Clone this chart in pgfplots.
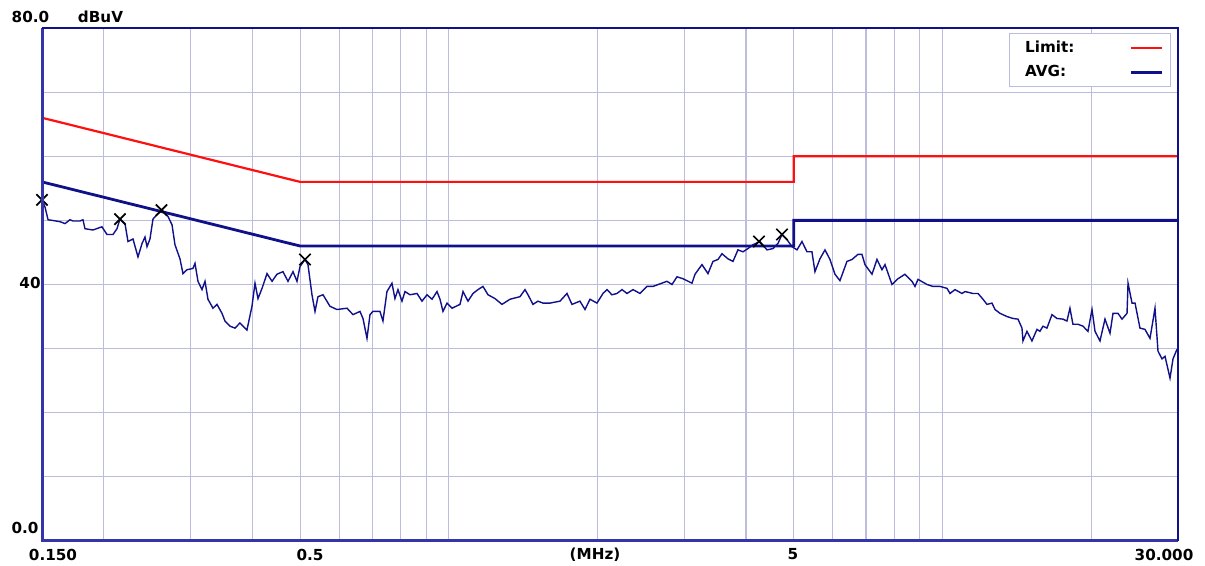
\documentclass[border=0pt]{standalone}
\usepackage{pgfplots}
\pgfplotsset{compat=1.18}
\usepackage{fontspec}
\setmainfont{DejaVu Sans}
\definecolor{navy}{HTML}{10108A}
\definecolor{frameblue}{HTML}{3434AC}
\definecolor{gridlav}{HTML}{BCBCDE}
\definecolor{limred}{HTML}{FF1010}

\begin{document}
\begin{tikzpicture}[lab/.style={font=\bfseries\fontsize{7.6}{9}\selectfont, inner sep=0pt}]
% page = 1205 x 566 px at 0.5pt per px; plot box at px (42,28)-(1178,541)
\path[use as bounding box] (-21pt,-12.5pt) rectangle (581.5pt,270.5pt);
\begin{axis}[
  name=ax, at={(0,0)}, anchor=south west,
  scale only axis, width=568pt, height=256.5pt,
  xmode=log, xmin=0.15, xmax=30, ymin=0, ymax=80,
  xtick={0.2,0.3,0.4,0.5,0.6,0.7,0.8,0.9,1,2,3,4,5,6,7,8,9,10,20},
  ytick={10,20,30,40,50,60,70},
  xticklabels={}, yticklabels={},
  major tick length=0pt,
  grid=major, grid style={gridlav, line width=0.55pt},
  axis line style={draw=none},
  legend plot pos=right,
  legend image code/.code={\draw[#1] (0pt,0pt) -- (15.5pt,0pt);},
  legend style={at={(rel axis cs:0.851,0.990)}, anchor=north west,
    draw=gridlav, line width=0.5pt, fill=white,
    font=\bfseries\fontsize{7.6}{9}\selectfont,
    inner xsep=3.5pt, inner ysep=3.5pt, row sep=5pt, column sep=27.5pt,
    cells={anchor=west}, nodes={inner sep=0pt}},
]
\addplot[limred, line width=1.1pt] coordinates {
  (0.15,66) (0.5,56) (5,56) (5,60) (30,60)};
\addlegendentry{\hspace*{4.5pt}Limit:}
\addplot[navy, line width=1.4pt] coordinates {
  (0.15,56) (0.5,46) (5,46) (5,50) (30,50)};
\addlegendentry{\hspace*{4.5pt}AVG:}

% measured trace
\addplot[navy, line width=0.7pt, forget plot] coordinates {
(0.1500,53.2) (0.1521,52.1) (0.1543,50.1) (0.1631,49.8) (0.1670,49.5)
(0.1709,50.1) (0.1733,49.9) (0.1791,49.9) (0.1816,50.1) (0.1833,48.7)
(0.1903,48.5) (0.1984,49.0) (0.2031,47.8) (0.2089,47.8) (0.2128,48.7)
(0.2158,50.2) (0.2209,49.5) (0.2240,46.7) (0.2293,47.1) (0.2347,44.3)
(0.2392,46.4) (0.2425,47.4) (0.2448,45.9) (0.2482,47.1) (0.2517,50.2)
(0.2565,50.9) (0.2625,51.6) (0.2700,50.6) (0.2751,49.3) (0.2789,46.2)
(0.2855,44.0) (0.2895,41.7) (0.2950,42.3) (0.3033,42.5) (0.3062,43.3)
(0.3105,40.5) (0.3164,39.2) (0.3208,40.5) (0.3253,37.7) (0.3330,36.3)
(0.3393,36.9) (0.3473,35.5) (0.3522,34.3) (0.3605,33.5) (0.3690,33.2)
(0.3777,34.0) (0.3902,32.9) (0.3995,36.6) (0.4051,40.2) (0.4108,37.8)
(0.4186,39.4) (0.4284,41.7) (0.4386,40.5) (0.4488,41.6) (0.4615,42.0)
(0.4725,40.5) (0.4836,42.0) (0.4927,40.5) (0.4997,42.8) (0.5114,43.9)
(0.5186,43.1) (0.5284,38.4) (0.5359,35.8) (0.5434,38.1) (0.5563,38.4)
(0.5747,36.6) (0.5937,36.1) (0.6222,36.3) (0.6398,35.3) (0.6610,35.8)
(0.6703,34.7) (0.6830,31.6) (0.6926,35.3) (0.7023,35.8) (0.7256,35.8)
(0.7358,34.3) (0.7497,38.9) (0.7674,40.2) (0.7782,37.8) (0.7892,39.2)
(0.8040,37.4) (0.8154,38.9) (0.8346,38.4) (0.8624,38.6) (0.8827,37.4)
(0.9035,38.4) (0.9249,37.7) (0.9467,38.9) (0.9601,37.7) (0.9734,35.8)
(0.9918,37.1) (1.0153,36.3) (1.0539,36.9) (1.0688,38.9) (1.0939,37.4)
(1.1197,38.6) (1.1460,39.2) (1.1730,39.7) (1.2009,38.4) (1.2408,37.8)
(1.2818,36.9) (1.3305,37.7) (1.3940,38.1) (1.4271,39.2) (1.4470,38.4)
(1.4811,36.9) (1.5161,37.4) (1.5520,37.1) (1.6035,37.1) (1.6799,37.4)
(1.7358,38.6) (1.7766,36.9) (1.8442,37.4) (1.8880,36.1) (1.9323,37.7)
(1.9965,37.1) (2.0529,38.6) (2.0916,39.2) (2.1408,38.4) (2.1916,38.6)
(2.2434,39.2) (2.2963,38.6) (2.3616,39.2) (2.4401,38.6) (2.5208,39.7)
(2.5923,39.7) (2.7672,40.5) (2.8327,40.0) (2.8995,41.2) (2.9819,40.9)
(3.1100,40.2) (3.1538,41.6) (3.2580,43.1) (3.3504,41.7) (3.4295,43.6)
(3.5103,43.9) (3.5765,44.8) (3.6780,44.0) (3.7649,43.6) (3.8535,45.4)
(3.9449,45.1) (4.0373,45.6) (4.1322,46.2) (4.2695,46.7) (4.4114,45.4)
(4.5360,45.6) (4.6437,46.4) (4.7312,47.8) (4.8426,47.0) (4.9565,45.9)
(5.0742,45.4) (5.1936,46.7) (5.3159,45.1) (5.4410,45.1) (5.5178,42.0)
(5.6478,44.0) (5.7822,45.4) (5.9183,43.9) (6.0575,41.6) (6.2000,40.6)
(6.4062,43.6) (6.5583,43.9) (6.7437,44.7) (6.8706,44.7) (6.9678,43.1)
(7.2000,41.6) (7.3697,43.9) (7.5432,42.3) (7.6500,43.1) (7.9044,40.0)
(8.1281,40.9) (8.3964,41.6) (8.6756,40.5) (8.7983,39.7) (8.9226,40.8)
(9.3042,40.0) (9.5673,39.7) (9.8855,39.7) (10.214,39.4) (10.358,38.6)
(10.602,39.2) (10.955,38.6) (11.109,38.9) (11.530,38.6) (11.804,38.6)
(12.081,37.7) (12.308,36.9) (12.600,37.1) (12.778,36.1) (13.079,35.5)
(13.514,35.0) (13.898,34.7) (14.225,34.6) (14.491,33.2) (14.558,31.2)
(14.832,32.7) (15.180,31.2) (15.541,33.0) (15.757,32.7) (15.981,33.5)
(16.281,33.2) (16.668,35.3) (17.060,34.7) (17.543,34.6) (17.873,34.3)
(18.126,36.3) (18.381,33.8) (18.815,33.8) (19.259,33.5) (19.716,32.7)
(20.088,36.1) (20.370,32.7) (20.850,31.2) (21.342,34.6) (21.846,32.4)
(22.155,35.5) (22.677,35.5) (23.105,34.6) (23.652,35.5) (23.763,40.2)
(24.210,37.1) (24.552,37.1) (25.124,33.2) (25.716,33.0) (26.327,31.6)
(26.948,36.3) (27.329,29.6) (27.843,28.4) (28.236,28.8) (28.902,25.4)
(29.310,28.4) (29.862,29.9)};

% peak markers
\addplot[only marks, mark=x, mark size=4pt, mark options={black, line width=0.85pt}, forget plot]
  coordinates {(0.150,53.2) (0.2158,50.2) (0.2619,51.6) (0.5114,43.9) (4.250,46.7) (4.731,47.8)};
\end{axis}
% frame
\draw[frameblue, line width=1.5pt] (ax.north west) -- (ax.south west) -- (ax.south east);
\draw[navy, line width=1.2pt] (ax.north west) -- (ax.north east) -- (ax.south east);
% labels
\node[lab] at (-5.75pt,262.25pt) {80.0};
\node[lab] at (29.25pt,262.25pt) {dBuV};
\node[lab] at (-6pt,129pt) {40};
\node[lab] at (-8.5pt,6.5pt) {0.0};
\node[lab] at (5.5pt,-6.75pt) {0.150};
\node[lab] at (134pt,-6.75pt) {0.5};
\node[lab] at (276.5pt,-7pt) {(MHz)};
\node[lab] at (375.5pt,-6.75pt) {5};
\node[lab] at (561pt,-6.75pt) {30.000};
\end{tikzpicture}
\end{document}
